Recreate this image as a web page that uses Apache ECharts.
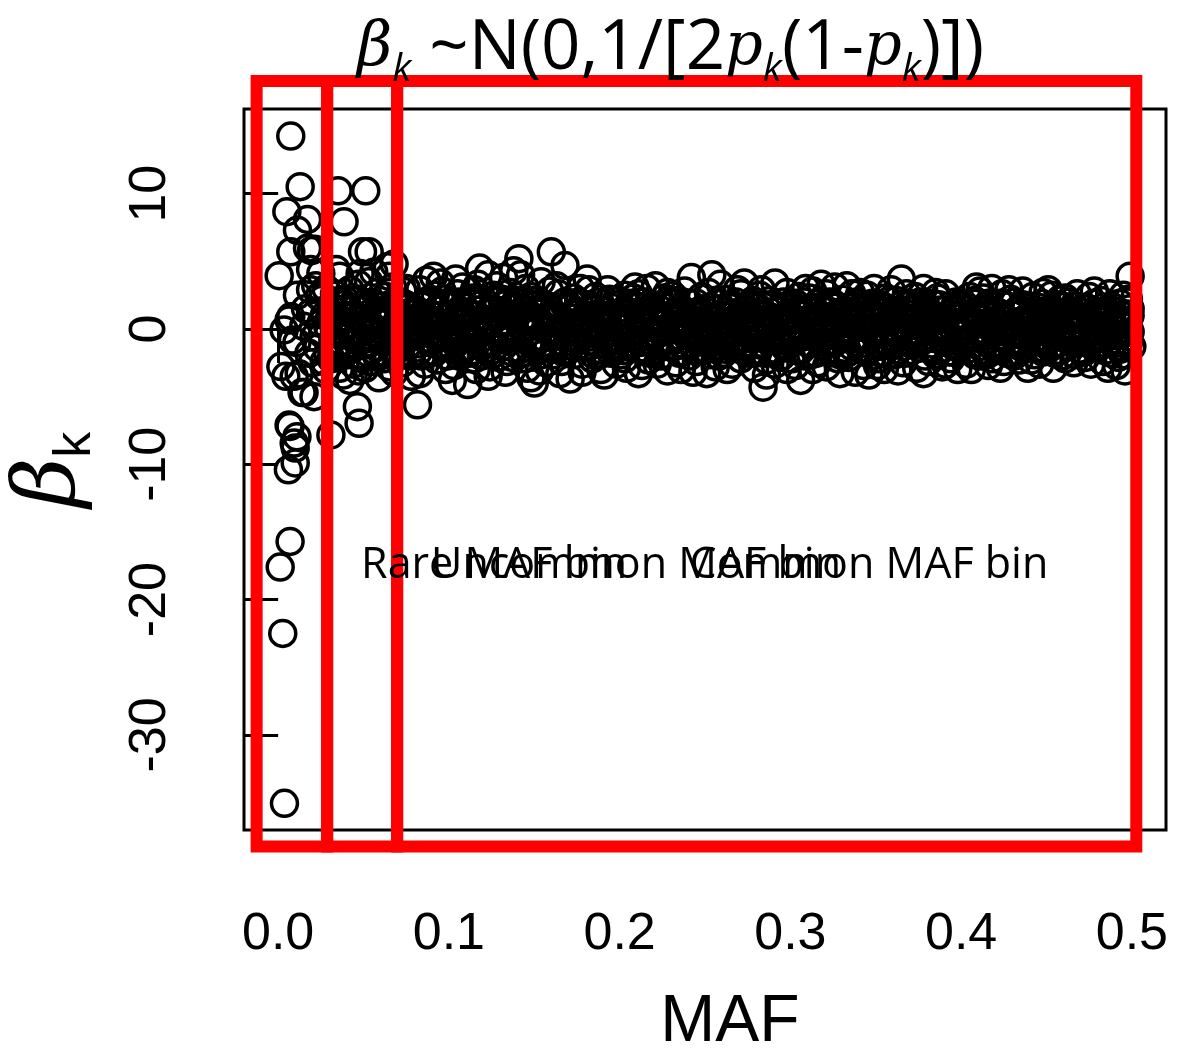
<!DOCTYPE html>
<html>
<head>
<meta charset="utf-8">
<script src="https://cdn.jsdelivr.net/npm/echarts@6/dist/echarts.min.js"></script>
<style>
  html, body { margin: 0; padding: 0; background: #fff; }
  #main { width: 1178px; height: 1058px; }
</style>
</head>
<body>
<div id="main"></div>
<script>
// rare variants (MAF < ~0.03), read point by point
const rarePoints = [
  [0.0074, 14.26], [0.0129, 10.52], [0.0051, 8.67], [0.0172, 8.1], [0.0113, 7.3],
  [0.0074, 5.71], [0.0172, 5.96], [0.0195, 5.8], [0.0215, 5.9], [0.0006, 3.94],
  [0.019, 4.4], [0.025, 4.1], [0.0113, 2.5], [0.019, 2.9], [0.024, 2.4],
  [0.0074, 0.9], [0.0035, -0.07], [0.0064, 0.66], [0.019, 1.2], [0.025, 0.4],
  [0.011, -1.0], [0.018, -1.8], [0.0084, -0.81], [0.020, -2.5], [0.0016, -2.78],
  [0.0045, -3.5], [0.0123, -3.3], [0.0094, -3.5], [0.014, -4.7], [0.021, -5.0],
  [0.0152, -4.7], [0.007, -7.2], [0.011, -7.96], [0.010, -8.8], [0.010, -9.9],
  [0.006, -10.4], [0.0064, -7.1], [0.0094, -8.43], [0.007, -15.7], [0.0012, -17.6],
  [0.0027, -22.5], [0.0037, -35.06], [0.016, 1.5], [0.022, 3.2], [0.021, -0.6],
  [0.026, -0.4], [0.028, 3.0], [0.029, -1.8], [0.027, 1.0], [0.029, 0.2], [0.028, -3.0],
  [0.023, -1.4], [0.026, 2.2], [0.015, 0.2], [0.027, -2.4]
];

// outliers just above MAF 0.03
const edgePoints = [
  [0.0351, 10.22], [0.0513, 10.22], [0.0386, 7.93], [0.0494, 5.71], [0.0533, 5.71],
  [0.0679, 4.8], [0.0464, -5.74], [0.0474, -6.97], [0.0309, -7.83], [0.0816, -5.6]
];

// dense band, MAF 0.03 - 0.50 (outer spread)
const bandPoints = [
  [0.031,1.2],[0.032,-0.8],[0.033,2.6],[0.034,-2.1],[0.035,0.3],[0.036,3.9],[0.037,-1.6],[0.038,1.8],[0.038,-3.4],[0.039,0.9],[0.033,-0.2],[0.036,-2.9],[0.039,2.2],[0.034,4.4],[0.037,0.6],
  [0.041,-1.1],[0.042,2.9],[0.043,0.4],[0.044,-2.6],[0.045,1.5],[0.046,-0.5],[0.047,3.3],[0.048,-1.9],[0.049,0.8],[0.042,-3.8],[0.045,2.1],[0.048,4.1],[0.044,-0.1],[0.047,-3.1],
  [0.051,1.9],[0.052,-0.7],[0.053,3.5],[0.054,-2.4],[0.055,0.2],[0.056,1.4],[0.057,-1.3],[0.058,2.7],[0.059,-3.6],[0.053,-1.8],[0.056,4.2],[0.058,0.5],[0.051,-2.9],
  [0.061,0.9],[0.062,-2.2],[0.063,2.4],[0.064,-0.4],[0.065,3.9],[0.066,-1.5],[0.067,1.1],[0.068,-3.2],[0.069,0.1],[0.062,1.7],[0.065,-2.8],[0.067,3.1],[0.069,-1.0],[0.064,4.6],
  [0.071,-0.6],[0.072,2.0],[0.073,-2.5],[0.074,0.7],[0.075,3.0],[0.076,-1.2],[0.077,1.6],[0.078,-3.5],[0.079,0.0],[0.073,2.8],[0.076,-0.3],[0.078,1.3],[0.071,-1.9],
  [0.081,1.4],[0.082,-1.7],[0.083,2.9],[0.084,-0.2],[0.085,0.8],[0.086,-2.6],[0.087,3.6],[0.088,-1.0],[0.089,2.2],[0.083,-3.3],[0.086,0.4],[0.088,1.9],[0.084,-2.0],
  [0.091,-0.9],[0.092,2.5],[0.093,-2.3],[0.094,1.0],[0.095,3.4],[0.096,-1.4],[0.097,0.3],[0.098,-3.0],[0.099,1.8],[0.093,0.6],[0.096,2.8],[0.098,-0.5],[0.091,3.9],
  [0.101,0.2],[0.102,-3.8],[0.103,1.7],[0.104,-1.1],[0.105,2.6],[0.106,-2.0],[0.107,0.9],[0.108,3.1],[0.109,-0.4],[0.103,-2.7],[0.106,1.3],[0.108,-1.6],[0.104,3.7],
  [0.111,-4.1],[0.112,1.1],[0.113,-0.6],[0.114,2.3],[0.115,-2.2],[0.116,0.5],[0.117,3.3],[0.118,4.5],[0.119,-1.3],[0.113,1.9],[0.116,-3.0],[0.118,0.0],[0.112,-1.8],[0.115,2.9],
  [0.121,2.0],[0.122,-1.0],[0.123,4.0],[0.124,-2.8],[0.125,0.6],[0.126,1.5],[0.127,-0.3],[0.128,3.2],[0.129,-2.1],[0.123,-3.5],[0.126,2.5],[0.128,-1.2],[0.121,0.3],
  [0.131,-0.8],[0.132,3.8],[0.133,1.2],[0.134,-2.4],[0.135,0.1],[0.136,2.7],[0.137,-1.7],[0.138,4.3],[0.139,0.8],[0.133,-3.2],[0.136,-0.2],[0.138,1.6],[0.131,2.2],
  [0.141,5.2],[0.142,-1.5],[0.143,1.9],[0.144,-0.1],[0.145,3.0],[0.146,-2.9],[0.147,0.7],[0.148,2.4],[0.149,-1.1],[0.143,-2.2],[0.145,1.0],[0.148,-3.6],[0.142,4.0],
  [0.150,-4.0],[0.151,0.4],[0.152,2.1],[0.153,-1.6],[0.154,3.5],[0.155,-0.6],[0.156,1.4],[0.157,-2.5],[0.158,0.0],[0.159,2.8],[0.153,-3.1],[0.156,-1.0],[0.158,1.7],
  [0.160,5.7],[0.161,-1.9],[0.162,1.0],[0.163,-0.5],[0.164,2.6],[0.165,-3.3],[0.166,0.3],[0.167,1.9],[0.168,4.7],[0.169,-1.2],[0.163,3.2],[0.166,-2.4],[0.168,-0.1],
  [0.171,-3.7],[0.172,0.8],[0.173,2.3],[0.174,-1.4],[0.175,1.2],[0.176,-0.3],[0.177,3.0],[0.178,-2.6],[0.179,0.5],[0.173,-1.0],[0.176,2.0],[0.178,-3.2],[0.171,1.6],
  [0.181,3.7],[0.182,-0.9],[0.183,1.6],[0.184,-2.2],[0.185,0.2],[0.186,2.4],[0.187,-1.5],[0.188,0.9],[0.189,-3.0],[0.183,-0.3],[0.186,1.1],[0.188,-1.9],[0.182,2.9],
  [0.191,-3.4],[0.192,1.3],[0.193,-0.7],[0.194,2.2],[0.195,-1.8],[0.196,0.6],[0.197,1.8],[0.198,-2.6],[0.199,0.1],[0.193,2.9],[0.196,-1.2],[0.198,1.0],[0.191,-0.4],
  [0.201,0.7],[0.202,-1.6],[0.203,2.5],[0.204,-2.9],[0.205,1.1],[0.206,-0.2],[0.207,1.9],[0.208,-1.1],[0.209,3.1],[0.203,-2.2],[0.206,0.4],[0.208,2.3],[0.201,-0.8],
  [0.211,-3.3],[0.212,0.9],[0.213,2.0],[0.214,-1.4],[0.215,0.2],[0.216,3.0],[0.217,-2.3],[0.218,1.4],[0.219,-0.6],[0.213,-2.7],[0.216,1.7],[0.218,-1.8],[0.211,2.6],
  [0.221,3.2],[0.222,-0.4],[0.223,1.5],[0.224,-2.0],[0.225,0.6],[0.226,2.3],[0.227,-1.3],[0.228,-3.1],[0.229,1.0],[0.223,-1.0],[0.226,0.0],[0.228,2.7],[0.222,-2.6],
  [0.231,-0.9],[0.232,2.1],[0.233,-2.5],[0.234,0.8],[0.235,1.6],[0.236,-1.7],[0.237,0.3],[0.238,2.8],[0.239,-0.5],[0.233,1.2],[0.236,-3.0],[0.238,-1.2],[0.231,2.5],
  [0.241,1.9],[0.242,3.8],[0.243,-1.1],[0.244,0.5],[0.245,-2.4],[0.246,1.3],[0.247,-0.2],[0.248,2.4],[0.249,-1.6],[0.243,-3.2],[0.246,0.9],[0.248,-0.8],[0.241,-2.0],
  [0.251,-0.3],[0.252,2.7],[0.253,-1.9],[0.254,4.0],[0.255,0.7],[0.256,-2.8],[0.257,1.5],[0.258,-0.6],[0.259,3.3],[0.253,0.2],[0.256,-1.4],[0.258,1.9],[0.251,-3.3],
  [0.261,1.0],[0.262,-1.5],[0.263,2.2],[0.264,-0.4],[0.265,0.6],[0.266,-2.6],[0.267,1.7],[0.268,-1.0],[0.269,2.9],[0.263,-3.0],[0.266,0.3],[0.268,1.2],[0.261,-0.9],
  [0.271,-2.2],[0.272,0.8],[0.273,3.4],[0.274,-0.7],[0.275,1.4],[0.276,-1.8],[0.277,0.1],[0.278,2.1],[0.279,-2.9],[0.273,-1.3],[0.276,1.0],[0.278,-0.3],[0.271,2.6],
  [0.281,0.4],[0.282,2.5],[0.283,-1.2],[0.284,-4.3],[0.285,1.1],[0.286,-2.3],[0.287,0.0],[0.288,1.8],[0.289,-0.8],[0.283,2.9],[0.286,-3.4],[0.288,0.9],[0.281,-1.7],
  [0.291,3.4],[0.292,-0.5],[0.293,1.3],[0.294,-2.1],[0.295,0.5],[0.296,2.0],[0.297,-1.4],[0.298,-3.0],[0.299,0.9],[0.293,-0.9],[0.296,1.6],[0.298,2.7],[0.291,-2.6],
  [0.301,-1.0],[0.302,1.7],[0.303,-2.7],[0.304,0.2],[0.305,2.4],[0.306,-3.8],[0.307,1.0],[0.308,-0.4],[0.309,3.0],[0.303,0.7],[0.306,-1.6],[0.308,2.0],[0.301,-2.2],
  [0.311,0.6],[0.312,-1.9],[0.313,2.8],[0.314,-0.6],[0.315,1.3],[0.316,-2.5],[0.317,0.0],[0.318,3.3],[0.319,-1.2],[0.313,-3.0],[0.316,1.9],[0.318,-0.2],[0.311,2.3],
  [0.321,-2.8],[0.322,0.9],[0.323,2.0],[0.324,-1.1],[0.325,0.3],[0.326,3.1],[0.327,-1.7],[0.328,1.1],[0.329,-3.3],[0.323,-0.5],[0.326,1.6],[0.328,-2.2],[0.321,2.6],
  [0.331,2.2],[0.332,-0.3],[0.333,3.2],[0.334,-2.1],[0.335,0.8],[0.336,-1.3],[0.337,1.7],[0.338,-3.2],[0.339,0.4],[0.333,-1.5],[0.336,2.6],[0.338,-0.7],[0.331,1.2],
  [0.341,-1.4],[0.342,1.5],[0.343,-2.7],[0.344,0.5],[0.345,2.5],[0.346,-0.8],[0.347,1.0],[0.348,-2.0],[0.349,3.0],[0.343,0.1],[0.346,-3.4],[0.348,1.9],[0.341,2.7],
  [0.351,0.9],[0.352,-2.2],[0.353,1.8],[0.354,-0.1],[0.355,-3.0],[0.356,2.3],[0.357,-1.1],[0.358,0.6],[0.359,2.9],[0.353,-1.8],[0.356,1.3],[0.358,-0.6],[0.351,-2.7],
  [0.361,-0.7],[0.362,2.1],[0.363,-1.6],[0.364,0.4],[0.365,3.7],[0.366,-2.5],[0.367,1.2],[0.368,-0.3],[0.369,1.9],[0.363,-3.1],[0.366,0.8],[0.368,2.6],[0.361,-1.9],
  [0.371,1.5],[0.372,-1.2],[0.373,2.4],[0.374,-2.9],[0.375,0.2],[0.376,1.0],[0.377,-0.9],[0.378,3.0],[0.379,-2.0],[0.373,-0.4],[0.376,2.0],[0.378,-3.3],[0.371,0.6],
  [0.381,-2.4],[0.382,0.6],[0.383,1.9],[0.384,-0.7],[0.385,2.7],[0.386,-1.6],[0.387,0.0],[0.388,1.4],[0.389,-2.8],[0.383,-1.1],[0.386,2.3],[0.388,-0.3],[0.381,1.1],
  [0.391,2.6],[0.392,-0.4],[0.393,1.1],[0.394,-2.2],[0.395,0.5],[0.396,-1.3],[0.397,2.0],[0.398,-3.0],[0.399,0.9],[0.393,-1.7],[0.396,1.6],[0.398,0.1],[0.391,-2.6],
  [0.401,-1.1],[0.402,1.8],[0.403,-2.6],[0.404,0.3],[0.405,2.4],[0.406,-0.6],[0.407,1.2],[0.408,-1.9],[0.409,3.1],[0.403,0.7],[0.406,-3.0],[0.408,2.1],[0.401,-0.2],
  [0.411,0.4],[0.412,-2.0],[0.413,2.3],[0.414,-0.9],[0.415,1.5],[0.416,-2.7],[0.417,0.1],[0.418,3.0],[0.419,-1.4],[0.413,-0.3],[0.416,1.9],[0.418,-2.2],[0.411,2.8],
  [0.421,-1.6],[0.422,1.2],[0.423,-0.2],[0.424,2.6],[0.425,-2.4],[0.426,0.8],[0.427,1.7],[0.428,-1.0],[0.429,2.2],[0.423,-2.9],[0.426,0.0],[0.428,2.9],[0.421,1.0],
  [0.431,2.0],[0.432,-0.8],[0.433,1.4],[0.434,-2.3],[0.435,0.6],[0.436,2.8],[0.437,-1.5],[0.438,0.2],[0.439,-2.9],[0.433,-1.2],[0.436,1.8],[0.438,-0.4],[0.431,-2.0],
  [0.441,-0.5],[0.442,2.4],[0.443,-1.9],[0.444,0.9],[0.445,1.6],[0.446,-2.6],[0.447,0.3],[0.448,2.7],[0.449,-1.1],[0.443,0.0],[0.446,-0.9],[0.448,1.3],[0.441,-2.3],
  [0.451,1.2],[0.452,-1.4],[0.453,2.5],[0.454,-2.9],[0.455,0.4],[0.456,1.8],[0.457,-0.6],[0.458,2.2],[0.459,-2.0],[0.453,-0.2],[0.456,0.9],[0.458,-1.6],[0.451,2.9],
  [0.461,-2.2],[0.462,0.7],[0.463,2.0],[0.464,-1.0],[0.465,1.3],[0.466,-2.5],[0.467,0.0],[0.468,2.6],[0.469,-1.5],[0.463,-0.4],[0.466,1.7],[0.468,-0.8],[0.461,2.3],
  [0.471,0.9],[0.472,-1.7],[0.473,1.6],[0.474,-0.3],[0.475,2.4],[0.476,-2.6],[0.477,0.5],[0.478,1.9],[0.479,-1.2],[0.473,-2.1],[0.476,0.1],[0.478,2.8],[0.471,-0.7],
  [0.481,-1.3],[0.482,2.1],[0.483,-2.4],[0.484,0.6],[0.485,1.4],[0.486,-0.5],[0.487,2.6],[0.488,-1.8],[0.489,0.2],[0.483,1.0],[0.486,-2.9],[0.488,1.7],[0.481,0.0],
  [0.491,0.8],[0.492,-2.1],[0.493,1.9],[0.494,-0.4],[0.495,2.5],[0.496,-3.1],[0.497,1.1],[0.498,-1.0],[0.499,3.9],[0.499,-0.2],[0.493,-1.5],[0.496,0.4],[0.498,2.2],[0.491,-2.7],[0.500,-1.3],[0.499,1.5]
];

// dense band core, |beta| < ~2
const bandCore = [
  [0.032,0.9],[0.034,-1.3],[0.035,1.9],[0.036,-0.4],[0.037,2.1],[0.038,-1.9],[0.039,0.1],[0.031,-2.2],
  [0.041,1.6],[0.042,-0.2],[0.043,-1.5],[0.044,1.0],[0.046,2.2],[0.047,-0.9],[0.048,0.6],[0.049,-2.0],
  [0.051,0.3],[0.052,1.7],[0.054,-1.0],[0.055,2.0],[0.056,-0.3],[0.057,0.8],[0.058,-2.1],[0.059,1.3],
  [0.061,-0.9],[0.062,0.4],[0.063,-1.8],[0.064,1.5],[0.066,0.7],[0.067,-0.5],[0.068,2.0],[0.069,-1.6],
  [0.071,1.0],[0.072,-1.4],[0.073,0.2],[0.074,-0.9],[0.075,1.8],[0.076,0.5],[0.077,-2.0],[0.079,1.2],
  [0.081,-0.5],[0.082,0.9],[0.083,-1.1],[0.084,1.7],[0.085,-1.9],[0.087,0.2],[0.088,-0.3],[0.089,1.1],
  [0.091,0.6],[0.092,-1.7],[0.093,1.4],[0.094,-0.4],[0.095,-1.1],[0.097,1.9],[0.098,0.8],[0.099,-2.0],
  [0.101,-1.2],[0.102,1.0],[0.103,-0.3],[0.105,0.5],[0.106,2.0],[0.107,-1.8],[0.108,0.9],[0.109,1.6],
  [0.111,0.8],[0.112,-0.7],[0.113,2.1],[0.114,-1.6],[0.115,0.3],[0.117,-0.4],[0.118,1.4],[0.119,-2.0],
  [0.121,-1.5],[0.122,0.5],[0.123,-0.2],[0.124,1.2],[0.125,-1.9],[0.127,2.2],[0.128,0.1],[0.129,0.9],
  [0.131,0.4],[0.132,-1.3],[0.133,1.8],[0.134,-0.6],[0.135,1.1],[0.137,-2.1],[0.138,-0.1],[0.139,2.0],
  [0.141,-0.7],[0.142,0.6],[0.143,-1.8],[0.144,1.5],[0.146,0.2],[0.147,-1.0],[0.148,1.0],[0.149,2.1],
  [0.151,1.8],[0.152,-0.9],[0.153,0.6],[0.154,-1.9],[0.155,1.2],[0.157,0.8],[0.158,-1.4],[0.159,-0.1],
  [0.161,0.6],[0.162,-1.3],[0.163,1.6],[0.164,-0.2],[0.165,0.9],[0.167,-1.7],[0.168,2.0],[0.169,0.3],
  [0.171,-0.6],[0.172,1.9],[0.173,-1.9],[0.174,0.4],[0.175,-0.2],[0.177,1.2],[0.178,0.7],[0.179,-1.3],
  [0.181,-1.4],[0.182,0.4],[0.183,-0.6],[0.184,1.4],[0.185,-1.9],[0.187,2.0],[0.188,-0.2],[0.189,0.8],
  [0.191,1.0],[0.192,-1.2],[0.193,0.5],[0.194,-0.3],[0.195,1.6],[0.197,-1.6],[0.198,2.1],[0.199,-0.8],
  [0.201,-1.9],[0.202,0.3],[0.203,1.2],[0.204,-0.6],[0.205,-1.3],[0.207,0.9],[0.208,1.8],[0.209,-0.2],
  [0.211,0.5],[0.212,-1.0],[0.213,1.1],[0.214,2.0],[0.215,-1.7],[0.217,0.2],[0.218,-0.5],[0.219,1.6],
  [0.221,-1.2],[0.222,1.0],[0.223,-0.1],[0.224,1.8],[0.225,-1.9],[0.227,0.4],[0.228,-0.8],[0.229,2.1],
  [0.231,0.3],[0.232,-1.3],[0.233,1.9],[0.234,-0.5],[0.235,-1.8],[0.237,1.4],[0.238,0.6],[0.239,-0.1],
  [0.241,-0.4],[0.242,1.1],[0.243,0.7],[0.244,-1.6],[0.245,1.9],[0.247,-0.9],[0.248,0.1],[0.249,1.5],
  [0.251,1.3],[0.252,-0.8],[0.253,0.9],[0.254,-1.3],[0.255,-0.2],[0.257,1.9],[0.258,-2.0],[0.259,0.4],
  [0.261,-1.8],[0.262,0.5],[0.263,-0.7],[0.264,1.6],[0.265,-1.2],[0.267,0.0],[0.268,2.0],[0.269,0.9],
  [0.271,0.7],[0.272,-1.6],[0.273,1.0],[0.274,-0.2],[0.275,-1.0],[0.277,1.9],[0.278,0.4],[0.279,-1.8],
  [0.281,1.6],[0.282,-0.6],[0.283,0.3],[0.284,1.2],[0.285,-1.8],[0.287,-0.9],[0.288,2.1],[0.289,0.1],
  [0.291,-1.5],[0.292,0.7],[0.293,-0.4],[0.294,1.5],[0.295,-2.0],[0.297,0.2],[0.298,1.1],[0.299,-0.8],
  [0.301,0.8],[0.302,-0.9],[0.303,1.9],[0.304,-1.6],[0.305,0.0],[0.307,-0.6],[0.308,1.2],[0.309,-2.0],
  [0.311,-1.1],[0.312,1.4],[0.313,-0.2],[0.314,0.9],[0.315,-1.8],[0.317,2.0],[0.318,0.5],[0.319,-0.6],
  [0.321,0.2],[0.322,-1.5],[0.323,1.3],[0.324,-0.3],[0.325,1.9],[0.327,-0.9],[0.328,0.6],[0.329,-1.9],
  [0.331,-0.6],[0.332,1.0],[0.333,-1.8],[0.334,1.6],[0.335,-0.1],[0.337,0.8],[0.338,-1.0],[0.339,2.0],
  [0.341,1.0],[0.342,-0.6],[0.343,0.4],[0.344,-1.7],[0.345,1.7],[0.347,-1.2],[0.348,-0.2],[0.349,0.7],
  [0.351,-1.3],[0.352,0.5],[0.353,-0.4],[0.354,1.6],[0.355,0.9],[0.357,-1.9],[0.358,2.1],[0.359,0.0],
  [0.361,1.2],[0.362,-1.1],[0.363,0.3],[0.364,-0.3],[0.365,1.8],[0.367,-1.8],[0.368,0.7],[0.369,-0.9],
  [0.371,-1.6],[0.372,0.8],[0.373,-0.1],[0.374,1.7],[0.375,-1.0],[0.377,0.4],[0.378,-0.6],[0.379,1.2],
  [0.381,0.3],[0.382,-1.4],[0.383,1.1],[0.384,-0.2],[0.385,-1.9],[0.387,1.8],[0.388,0.7],[0.389,-0.9],
  [0.391,-1.0],[0.392,1.5],[0.393,-0.5],[0.394,0.6],[0.395,-1.7],[0.397,0.2],[0.398,1.8],[0.399,-0.3],
  [0.401,0.9],[0.402,-0.8],[0.403,1.4],[0.404,-1.5],[0.405,0.1],[0.407,-0.4],[0.408,1.9],[0.409,-1.9],
  [0.411,-1.3],[0.412,0.7],[0.413,-0.6],[0.414,1.6],[0.415,-1.9],[0.417,1.1],[0.418,0.3],[0.419,-0.1],
  [0.421,0.4],[0.422,-1.1],[0.423,1.9],[0.424,-0.5],[0.425,0.9],[0.427,-1.8],[0.428,0.1],[0.429,-0.3],
  [0.431,-0.3],[0.432,1.2],[0.433,-1.7],[0.434,0.5],[0.435,-0.9],[0.437,1.6],[0.438,-1.2],[0.439,0.9],
  [0.441,1.1],[0.442,-0.9],[0.443,0.6],[0.444,-1.4],[0.445,-0.2],[0.447,1.9],[0.448,-1.7],[0.449,0.4],
  [0.451,-0.8],[0.452,0.5],[0.453,-1.2],[0.454,1.4],[0.455,-1.8],[0.457,1.1],[0.458,0.0],[0.459,1.7],
  [0.461,0.3],[0.462,-1.3],[0.463,1.2],[0.464,0.6],[0.465,-0.7],[0.467,-1.9],[0.468,1.0],[0.469,0.2],
  [0.471,-1.6],[0.472,0.6],[0.473,-0.4],[0.474,1.5],[0.475,-1.1],[0.477,1.1],[0.478,-0.2],[0.479,0.7],
  [0.481,0.9],[0.482,-0.7],[0.483,1.6],[0.484,-1.6],[0.485,-0.3],[0.487,0.4],[0.488,1.0],[0.489,-1.1],
  [0.491,-0.5],[0.492,1.3],[0.493,-1.0],[0.494,0.7],[0.495,-1.9],[0.497,0.3],[0.498,-0.6],[0.499,1.0]
];

const xTicks = [0, 0.1, 0.2, 0.3, 0.4, 0.5];
const yTicks = [-30, -20, -10, 0, 10];

// MAF bins drawn as red boxes
const binEdges = [[-0.0126, 0.0287], [0.0287, 0.0697], [0.0697, 0.5026]];
const binBoxY = [18.33, -38.25];
const binLabels = ['Rare MAF bin', 'Uncommon MAF bin', 'Common MAF bin'];
const binLabelX = [0.1265, 0.2096, 0.346];
const binLabelY = -17.5;

const chart = echarts.init(document.getElementById('main'));

const option = {
  animation: false,
  backgroundColor: '#fff',
  title: {
    text: '{g|β}{s|k}{n| ~N(0,1/[2}{i|p}{s|k}{n|(1-}{i|p}{s|k}{n|)])}',
    left: 352,
    top: 4,
    textStyle: {
      fontWeight: 'normal',
      rich: {
        g: { fontFamily: 'DejaVu Serif', fontStyle: 'italic', fontWeight: 'normal', fontSize: 61, color: '#000', lineHeight: 80 },
        i: { fontFamily: 'DejaVu Serif', fontStyle: 'italic', fontWeight: 'normal', fontSize: 59, color: '#000', lineHeight: 80 },
        n: { fontFamily: 'Open Sans', fontWeight: 'normal', fontSize: 69, color: '#000', lineHeight: 80 },
        s: { fontFamily: 'Open Sans', fontStyle: 'italic', fontWeight: 'normal', fontSize: 39, color: '#000', lineHeight: 38, verticalAlign: 'bottom' }
      }
    }
  },
  grid: {
    left: 244,
    top: 109,
    width: 922,
    height: 721,
    containLabel: false,
    outerBoundsMode: 'none',
    show: true,
    borderColor: '#000',
    borderWidth: 3,
    backgroundColor: 'transparent'
  },
  xAxis: {
    type: 'value',
    min: -0.02,
    max: 0.52,
    name: 'MAF',
    nameLocation: 'middle',
    nameGap: 160,
    nameTextStyle: {
      fontFamily: 'Liberation Sans',
      fontSize: 66,
      color: '#000',
      padding: [0, 0, 0, 50]
    },
    axisLine: { show: false },
    splitLine: { show: false },
    axisTick: {
      show: true,
      length: 34,
      customValues: xTicks,
      lineStyle: { color: '#000', width: 3 }
    },
    axisLabel: {
      customValues: xTicks,
      margin: 79,
      fontFamily: 'Liberation Sans',
      fontSize: 52,
      color: '#000',
      formatter: (v) => v.toFixed(1)
    }
  },
  yAxis: {
    type: 'value',
    min: -37.03,
    max: 16.26,
    name: '{g|β}{s|k}',
    nameLocation: 'middle',
    nameRotate: 90,
    nameGap: 142,
    nameTextStyle: {
      rich: {
        g: { fontFamily: 'DejaVu Serif', fontStyle: 'italic', fontSize: 86, color: '#000', lineHeight: 100 },
        s: { fontFamily: 'Liberation Sans', fontSize: 52, color: '#000', lineHeight: 60, verticalAlign: 'bottom' }
      }
    },
    axisLine: { show: false },
    splitLine: { show: false },
    axisTick: {
      show: true,
      length: 34,
      customValues: yTicks,
      lineStyle: { color: '#000', width: 3 }
    },
    axisLabel: {
      customValues: yTicks,
      rotate: 90,
      margin: 67,
      fontFamily: 'Liberation Sans',
      fontSize: 52,
      color: '#000'
    }
  },
  series: [
    {
      type: 'scatter',
      data: rarePoints.concat(edgePoints, bandPoints, bandCore),
      symbol: 'circle',
      symbolSize: 26,
      itemStyle: { color: 'rgba(0,0,0,0)', borderColor: '#000', borderWidth: 3.5, opacity: 1 },
      emphasis: { disabled: true },
      z: 2
    },
    {
      type: 'custom',
      clip: false,
      z: 5,
      data: binEdges,
      renderItem: function (params, api) {
        const p0 = api.coord([api.value(0), binBoxY[0]]);
        const p1 = api.coord([api.value(1), binBoxY[1]]);
        return {
          type: 'rect',
          shape: { x: p0[0], y: p0[1], width: p1[0] - p0[0], height: p1[1] - p0[1] },
          style: { fill: 'none', stroke: '#ff0000', lineWidth: 12, lineJoin: 'miter' }
        };
      }
    },
    {
      type: 'custom',
      clip: false,
      z: 6,
      data: binLabelX.map((x, i) => [x, binLabelY, i]),
      renderItem: function (params, api) {
        const p = api.coord([api.value(0), api.value(1)]);
        return {
          type: 'text',
          style: {
            text: binLabels[params.dataIndex],
            x: p[0],
            y: p[1],
            align: 'center',
            verticalAlign: 'middle',
            fill: '#000',
            font: '43px "Open Sans"'
          }
        };
      }
    }
  ]
};

chart.setOption(option);
</script>
</body>
</html>
